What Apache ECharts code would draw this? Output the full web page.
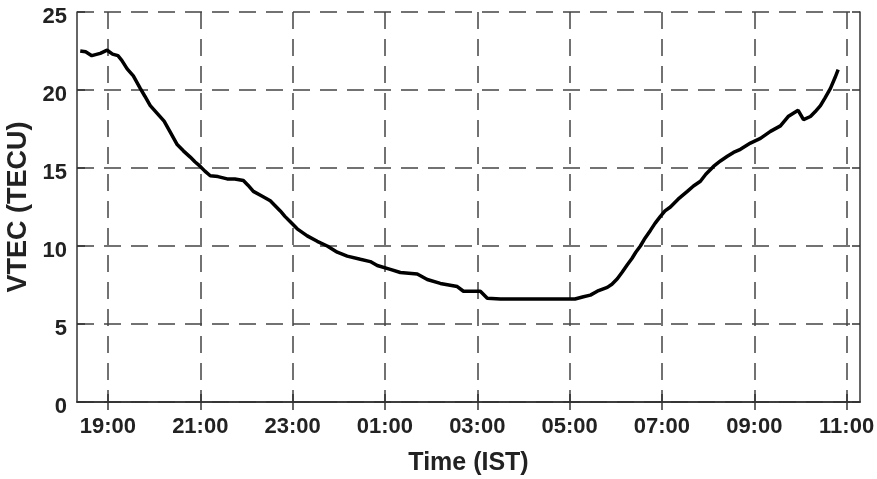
<!DOCTYPE html>
<html lang="en">
<head>
    <meta charset="UTF-8">
    <title>VTEC</title>
    <style>
        body { margin: 0; background: #fff; }
        #chart { width: 877px; height: 479px; }
    </style>
</head>
<body>
<div id="chart"></div>
<script src="https://cdn.jsdelivr.net/npm/echarts@6/dist/echarts.min.js"></script>
<script>
// local time (IST) of each sample, night runs past midnight
var times = [
  '18:24','18:31','18:39','18:50','18:59','19:06','19:13','19:18','19:25','19:33',
  '19:42','19:48','19:55','20:04','20:13','20:21','20:30','20:38','20:47','20:53',
  '21:00','21:06','21:13','21:23','21:35','21:45','21:56','22:02','22:09','22:20',
  '22:31','22:37','22:44','22:50','22:57','23:06','23:19','23:32','23:45','23:58',
  '00:11','00:28','00:41','00:50','01:07','01:20','01:42','01:55','02:12','02:34',
  '02:42','03:04','03:13','03:30','04:09','04:48','05:07','05:18','05:27','05:36',
  '05:49','05:55','06:02','06:08','06:15','06:21','06:26','06:32','06:38','06:45',
  '06:51','06:58','07:04','07:11','07:21','07:33','07:41','07:50','07:57','08:07',
  '08:16','08:25','08:33','08:42','08:55','09:08','09:21','09:34','09:44','09:57',
  '10:04','10:13','10:19','10:26','10:32','10:39','10:45','10:49'
];
var vtec = [
  22.5, 22.45, 22.2, 22.35, 22.55, 22.3, 22.2, 21.9, 21.35, 20.9,
  20.1, 19.6, 19.0, 18.5, 18.0, 17.3, 16.5, 16.1, 15.7, 15.4,
  15.1, 14.8, 14.5, 14.45, 14.3, 14.3, 14.2, 13.9, 13.5, 13.2,
  12.9, 12.6, 12.25, 11.9, 11.55, 11.1, 10.65, 10.3, 10.0, 9.6,
  9.35, 9.15, 9.0, 8.75, 8.5, 8.3, 8.2, 7.85, 7.6, 7.4,
  7.1, 7.1, 6.65, 6.6, 6.6, 6.6, 6.6, 6.75, 6.85, 7.1,
  7.35, 7.55, 7.9, 8.3, 8.8, 9.2, 9.6, 10.0, 10.5, 11.0,
  11.45, 11.9, 12.25, 12.5, 13.0, 13.5, 13.85, 14.15, 14.6, 15.1,
  15.45, 15.75, 16.0, 16.2, 16.6, 16.9, 17.35, 17.7, 18.3, 18.7,
  18.1, 18.3, 18.6, 19.0, 19.5, 20.1, 20.8, 21.3
];
var xTicks = [19, 21, 23, 25, 27, 29, 31, 33, 35];

function toHours(t) {
  var p = t.split(':');
  var h = +p[0] + p[1] / 60;
  return h < 18 ? h + 24 : h;
}
function hourLabel(v) {
  var h = Math.round(v) % 24;
  return (h < 10 ? '0' : '') + h + ':00';
}

var pts = times.map(function (t, i) { return [toHours(t), vtec[i]]; });

var font = 'Liberation Sans, Arial, sans-serif';
var axisCol = '#333';
var dashed = { color: '#444', width: 1.5, type: [17, 10] };
var labelText = { fontFamily: font, fontWeight: 'bold', fontSize: 22, color: '#222' };

var chart = echarts.init(document.getElementById('chart'));
chart.setOption({
  animation: false,
  grid: { left: 77, right: 17, top: 12, bottom: 77, outerBoundsMode: 'none' },
  xAxis: [{
    type: 'value', min: 18.33, max: 35.29,
    name: 'Time (IST)', nameLocation: 'middle', nameGap: 49,
    nameTextStyle: { fontFamily: font, fontWeight: 'bold', fontSize: 25, color: '#222' },
    axisLine: { lineStyle: { color: axisCol, width: 1.5 } },
    axisTick: { inside: true, length: 8, customValues: xTicks, lineStyle: { color: axisCol, width: 1.5 } },
    axisLabel: Object.assign({ customValues: xTicks, formatter: hourLabel, margin: 14 }, labelText),
    splitLine: { show: true, lineStyle: dashed }
  }, {
    type: 'value', position: 'top', min: 18.33, max: 35.29,
    axisLine: { lineStyle: { color: axisCol, width: 1.5 } },
    axisTick: { inside: true, length: 8, customValues: xTicks, lineStyle: { color: axisCol, width: 1.5 } },
    axisLabel: { show: false },
    splitLine: { show: false }
  }],
  yAxis: [{
    type: 'value', min: 0, max: 25, interval: 5,
    name: 'VTEC (TECU)', nameLocation: 'middle', nameGap: 42,
    nameTextStyle: { fontFamily: font, fontWeight: 'bold', fontSize: 27, color: '#222' },
    axisLine: { show: true, lineStyle: { color: axisCol, width: 1.5 } },
    axisTick: { show: true, inside: true, length: 8, lineStyle: { color: axisCol, width: 1.5 } },
    axisLabel: {
      margin: 10,
      formatter: '{v|{value}}',
      rich: { v: Object.assign({ padding: [9, 0, 0, 0] }, labelText) }
    },
    splitLine: { show: true, lineStyle: dashed }
  }, {
    type: 'value', position: 'right', min: 0, max: 25, interval: 5,
    axisLine: { show: true, lineStyle: { color: axisCol, width: 1.5 } },
    axisTick: { show: true, inside: true, length: 8, lineStyle: { color: axisCol, width: 1.5 } },
    axisLabel: { show: false },
    splitLine: { show: false }
  }],
  series: [{
    type: 'line',
    data: pts,
    showSymbol: false,
    lineStyle: { color: '#000', width: 3.5 },
    z: 5
  }]
});
</script>
</body>
</html>
